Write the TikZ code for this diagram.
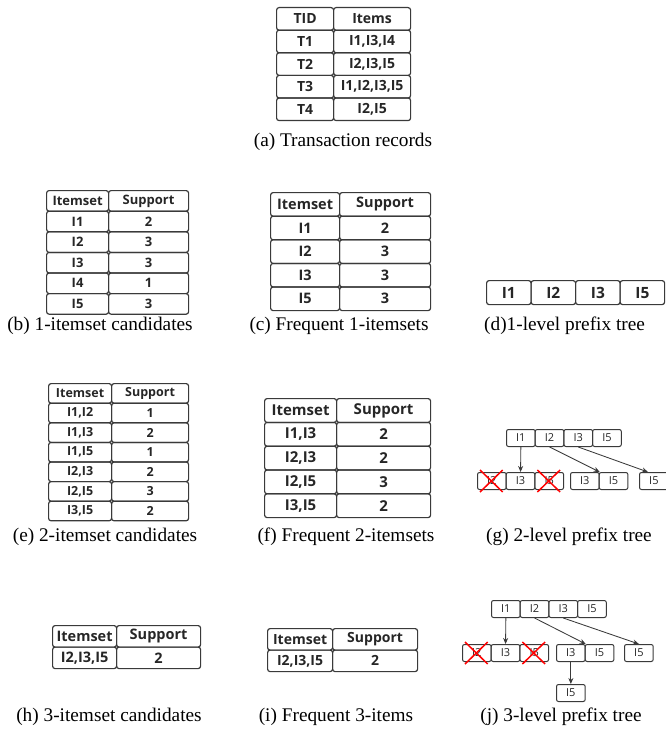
\documentclass[tikz,border=0pt]{standalone}
\usepackage{fontspec}
\setmainfont{Liberation Serif}
\newfontfamily\tabf{Open Sans}
\usetikzlibrary{arrows.meta,calc}
\definecolor{lc}{HTML}{3A3A3A}
\definecolor{tc}{HTML}{262626}
\tikzset{
 cell/.style={draw=lc, line width=1.2pt, rounded corners=2.5pt, inner sep=0pt, anchor=north west, text=tc},
 captxt/.style={font=\fontsize{19.3}{22}\selectfont, text=black, inner sep=0pt},
 fa/.style={font=\tabf\bfseries\fontsize{14}{16}\selectfont},
 fb/.style={font=\tabf\bfseries\fontsize{13}{15}\selectfont},
 fc/.style={font=\tabf\bfseries\fontsize{14.5}{16}\selectfont},
 fd/.style={font=\tabf\bfseries\fontsize{15.5}{17}\selectfont},
 fe/.style={font=\tabf\bfseries\fontsize{12.5}{14}\selectfont},
 ff/.style={font=\tabf\bfseries\fontsize{15}{17}\selectfont},
 fh/.style={font=\tabf\bfseries\fontsize{14.5}{16}\selectfont},
 fi/.style={font=\tabf\bfseries\fontsize{14}{16}\selectfont},
 tbox/.style={cell, minimum width=28.7pt, minimum height=17pt, line width=1pt, rounded corners=2pt, font=\tabf\fontsize{11}{12}\selectfont},
 dbox/.style={cell, fd, minimum width=44.5pt, minimum height=24pt},
 arr/.style={draw=lc, line width=0.85pt, -{Stealth[length=6pt,width=5pt]}},
 xcross/.style={draw=red, line width=1.5pt},
}
\newcommand\trow[9]{%
 \node[cell,#1,minimum width={(#4-#3)*1pt},minimum height={#7*1pt}] (#2a) at (#3,#6) {#8};
 \node[cell,#1,minimum width={(#5-#4)*1pt},minimum height={#7*1pt}] (#2b) at (#4,#6) {#9};}
\newcommand\xout[1]{%
 \draw[xcross] ($(#1.north west)+(3,-2)$) -- ($(#1.south east)+(-4,2)$);
 \draw[xcross] ($(#1.south west)+(3,2)$) -- ($(#1.north east)+(-4,-2)$);}
\begin{document}
\begin{tikzpicture}[x=1pt,y=-1pt]
\useasboundingbox (0,0) rectangle (666,733);
% (a)
\trow{fa}{a0}{276}{333}{410}{7}{22.6}{TID}{Items}
\trow{fa}{a1}{276}{333}{410}{29.6}{22.6}{T1}{I1,I3,I4}
\trow{fa}{a2}{276}{333}{410}{52.2}{22.6}{T2}{I2,I3,I5}
\trow{fa}{a3}{276}{333}{410}{74.8}{22.6}{T3}{I1,I2,I3,I5}
\trow{fa}{a4}{276}{333}{410}{97.4}{22.6}{T4}{I2,I5}
\node[captxt] (capa) at (343,142) {(a) Transaction records};
% (b)
\trow{fb}{b0}{46}{108}{188}{190}{20.6}{Itemset}{Support}
\trow{fb}{b1}{46}{108}{188}{210.6}{20.6}{I1}{2}
\trow{fb}{b2}{46}{108}{188}{231.2}{20.6}{I2}{3}
\trow{fb}{b3}{46}{108}{188}{251.8}{20.6}{I3}{3}
\trow{fb}{b4}{46}{108}{188}{272.4}{20.6}{I4}{1}
\trow{fb}{b5}{46}{108}{188}{293}{20.6}{I5}{3}
% (c)
\trow{fc}{c0}{270}{339}{430}{192}{23.6}{Itemset}{Support}
\trow{fc}{c1}{270}{339}{430}{215.6}{23.6}{I1}{2}
\trow{fc}{c2}{270}{339}{430}{239.2}{23.6}{I2}{3}
\trow{fc}{c3}{270}{339}{430}{262.8}{23.6}{I3}{3}
\trow{fc}{c4}{270}{339}{430}{286.4}{23.6}{I5}{3}
% (d)
\node[dbox] (d1) at (486,280) {I1};
\node[dbox] (d2) at (530.5,280) {I2};
\node[dbox] (d3) at (575,280) {I3};
\node[dbox] (d4) at (619.5,280) {I5};
\node[captxt] (capb) at (100,326) {(b) 1-itemset candidates};
\node[captxt] (capc) at (339,326) {(c) Frequent 1-itemsets};
\node[captxt,anchor=west] (capd) at (484,326) {(d)1-level prefix tree};
% (e)
\trow{fe}{e0}{48}{111}{188}{383}{19.6}{Itemset}{Support}
\trow{fe}{e1}{48}{111}{188}{402.6}{19.6}{I1,I2}{1}
\trow{fe}{e2}{48}{111}{188}{422.2}{19.6}{I1,I3}{2}
\trow{fe}{e3}{48}{111}{188}{441.8}{19.6}{I1,I5}{1}
\trow{fe}{e4}{48}{111}{188}{461.4}{19.6}{I2,I3}{2}
\trow{fe}{e5}{48}{111}{188}{481}{19.6}{I2,I5}{3}
\trow{fe}{e6}{48}{111}{188}{500.6}{19.6}{I3,I5}{2}
% (f)
\trow{ff}{f0}{264}{336}{430}{398}{23.8}{Itemset}{Support}
\trow{ff}{f1}{264}{336}{430}{421.8}{23.8}{I1,I3}{2}
\trow{ff}{f2}{264}{336}{430}{445.6}{23.8}{I2,I3}{2}
\trow{ff}{f3}{264}{336}{430}{469.4}{23.8}{I2,I5}{3}
\trow{ff}{f4}{264}{336}{430}{493.2}{23.8}{I3,I5}{2}
% (g)
\node[tbox] (g1a) at (506,429) {I1};
\node[tbox] (g1b) at (534.7,429) {I2};
\node[tbox] (g1c) at (563.4,429) {I3};
\node[tbox] (g1d) at (592.1,429) {I5};
\node[tbox] (g2a) at (477,472) {I2};
\node[tbox] (g2b) at (505.7,472) {I3};
\node[tbox] (g2c) at (534.4,472) {I5};
\node[tbox] (g2d) at (570,472) {I3};
\node[tbox] (g2e) at (598.7,472) {I5};
\node[tbox] (g2f) at (639,472) {I5};
\xout{g2a}
\xout{g2c}
\draw[arr] (g1a.south) -- (g2b.north);
\draw[arr] (g1b.south) -- (g2d.north east);
\draw[arr] (g1c.south) -- ($(g2f.north west)!0.3!(g2f.north east)$);
\node[captxt] (cape) at (105,537) {(e) 2-itemset candidates};
\node[captxt] (capf) at (346,537) {(f) Frequent 2-itemsets};
\node[captxt] (capg) at (569,537) {(g) 2-level prefix tree};
% (h)
\trow{fh}{h0}{52}{116}{200}{625}{21.5}{Itemset}{Support}
\trow{fh}{h1}{52}{116}{200}{646.5}{21.5}{I2,I3,I5}{2}
% (i)
\trow{fi}{i0}{267}{332}{417}{628}{21.5}{Itemset}{Support}
\trow{fi}{i1}{267}{332}{417}{649.5}{21.5}{I2,I3,I5}{2}
% (j)
\node[tbox] (j1a) at (491,600) {I1};
\node[tbox] (j1b) at (519.7,600) {I2};
\node[tbox] (j1c) at (548.4,600) {I3};
\node[tbox] (j1d) at (577.1,600) {I5};
\node[tbox] (j2a) at (462,644) {I2};
\node[tbox] (j2b) at (490.7,644) {I3};
\node[tbox] (j2c) at (519.4,644) {I5};
\node[tbox] (j2d) at (556,644) {I3};
\node[tbox] (j2e) at (584.7,644) {I5};
\node[tbox] (j2f) at (624,644) {I5};
\node[tbox] (j3a) at (556,684) {I5};
\xout{j2a}
\xout{j2c}
\draw[arr] (j1a.south) -- (j2b.north);
\draw[arr] (j1b.south) -- (j2d.north east);
\draw[arr] (j1c.south) -- (j2f.north);
\draw[arr] (j2d.south) -- (j3a.north);
\node[captxt] (caph) at (109,717) {(h) 3-itemset candidates};
\node[captxt] (capi) at (336,717) {(i) Frequent 3-items};
\node[captxt] (capj) at (561,717) {(j) 3-level prefix tree};
\end{tikzpicture}
\end{document}
